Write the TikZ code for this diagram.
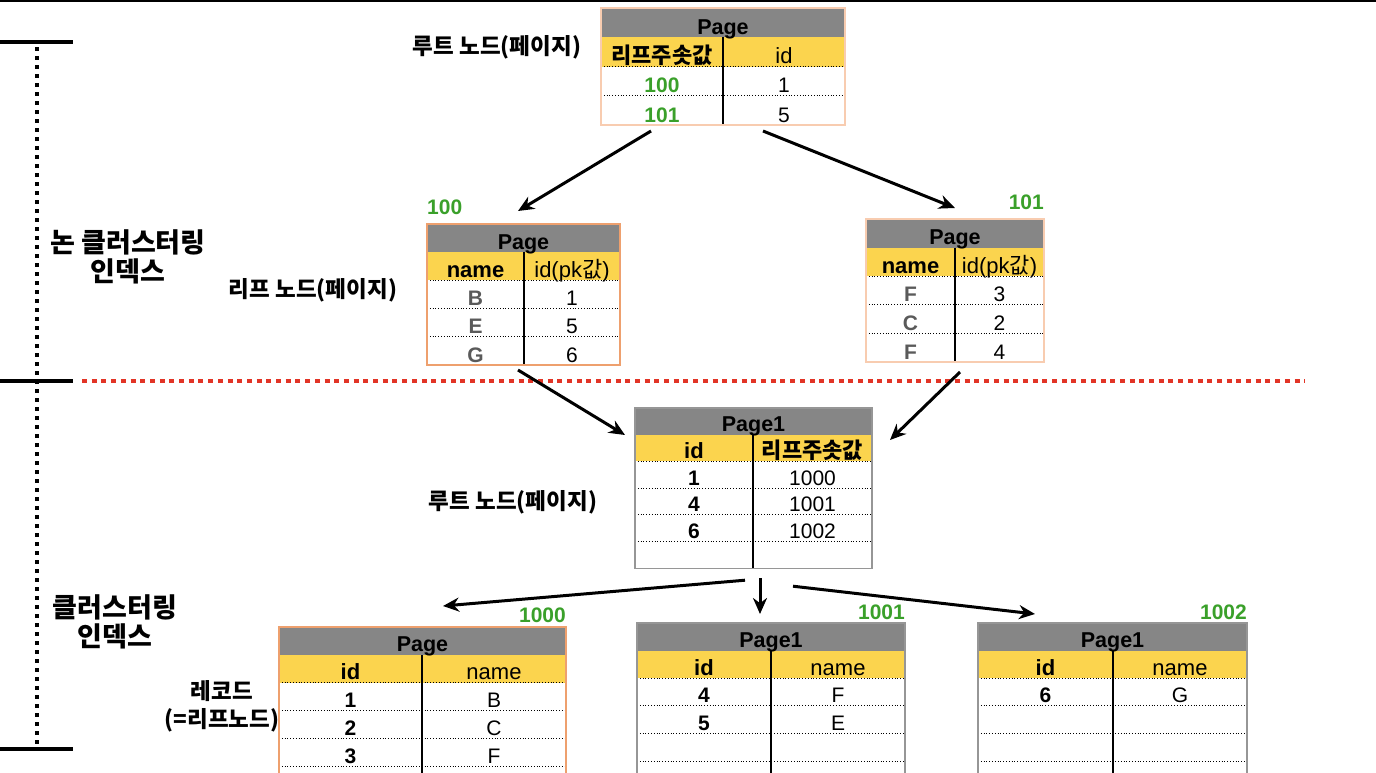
\documentclass[tikz,border=0pt]{standalone}
\usepackage{fontspec}
\setmainfont{Liberation Sans}
\newfontfamily\kr{Noto Sans CJK KR}
\usetikzlibrary{arrows.meta,calc,positioning}

\definecolor{pggray}{RGB}{134,134,134}
\definecolor{pgyellow}{RGB}{251,212,78}
\definecolor{numgreen}{RGB}{58,160,42}
\definecolor{cellgray}{RGB}{90,90,90}
\definecolor{lineorange}{RGB}{238,160,110}
\definecolor{lightorange}{RGB}{248,204,176}
\definecolor{linegray}{RGB}{150,150,150}
\definecolor{dotred}{RGB}{226,52,38}

\tikzset{
  pgbox/.style={rectangle, inner sep=0pt, outer sep=0pt, anchor=north west, line width=1.2pt},
  pgtitle/.style={anchor=base, inner sep=0pt, font=\fontsize{21.5}{24}\selectfont\bfseries},
  pghead/.style={anchor=base, inner sep=0pt, font=\fontsize{22}{24}\selectfont},
  cell/.style={anchor=base, inner sep=0pt, font=\fontsize{21}{24}\selectfont},
  boldcell/.style={cell, font=\fontsize{21}{24}\selectfont\bfseries},
  greencell/.style={boldcell, text=numgreen},
  graycell/.style={boldcell, text=cellgray},
  numlbl/.style={inner sep=0pt, text=numgreen, font=\fontsize{21}{24}\selectfont\bfseries},
  krlabel/.style={align=center, inner sep=0pt, font=\fontsize{22.5}{28}\selectfont\kr\bfseries},
  biglabel/.style={krlabel, font=\fontsize{27}{29.5}\selectfont\kr\bfseries},
  rowline/.style={black, line width=0.8pt, dotted},
  arr/.style={-{Stealth[length=16pt,width=14pt]}, line width=3pt},
}

% page table: name, left, top, right, column x, row slots, row height, border, title
\newcommand{\pgframe}[9]{%
  \pgfmathsetmacro\pgtop{#3}%
  \pgfmathsetmacro\pgrh{#7}%
  \pgfmathsetmacro\pgLx{(#2+#5)/2}%
  \pgfmathsetmacro\pgRx{(#5+#4)/2}%
  \pgfmathsetmacro\pgMx{(#2+#4)/2}%
  \fill[pggray] (#2,#3) rectangle (#4,{#3+#7});
  \fill[pgyellow] (#2,{#3+#7}) rectangle (#4,{#3+2*#7});
  \foreach \k in {1,...,#6}
    \draw[rowline] (#2,{#3+(\k+1)*#7}) -- (#4,{#3+(\k+1)*#7});
  \draw[line width=1.3pt] (#5,{#3+#7}) -- (#5,{#3+(#6+2)*#7});
  \node[pgtitle] at (\pgMx,{#3+#7-3}) {#9};
  \node[pgbox, draw=#8, minimum width={(#4-#2)*1pt},
        minimum height={(#6+2)*#7*1pt}] (#1) at (#2,#3) {};
}
\newcommand{\pghead}[2]{%
  \node[pghead] at (\pgLx,{\pgtop+2*\pgrh-3}) {#1};
  \node[pghead] at (\pgRx,{\pgtop+2*\pgrh-3}) {#2};
}
\newcommand{\pgcells}[2]{%
  \foreach \a/\b [count=\k] in {#2} {
    \node[#1] at (\pgLx,{\pgtop+(\k+2)*\pgrh-3}) {\a};
    \node[cell] at (\pgRx,{\pgtop+(\k+2)*\pgrh-3}) {\b};
  }
}

\begin{document}
\begin{tikzpicture}[x=1pt, y=-1pt]
  \useasboundingbox (0,0) rectangle (1376,772);
  \clip (0,0) rectangle (1376,772);
  \draw[line width=2pt] (0,1) -- (1376,1);

  % Bracket and divider
  \draw[line width=4pt] (0,42) -- (73,42);
  \draw[line width=4pt] (0,381) -- (73,381);
  \draw[line width=4pt] (0,749) -- (73,749);
  \draw[line width=4pt, dash pattern=on 3.5pt off 5.5pt] (37,47) -- (37,745);
  \draw[dotred, line width=3.5pt, dash pattern=on 5pt off 4.7pt] (82,381) -- (1305,381);

  % Non-clustered index
  \pgframe{root}{601}{8}{845}{723}{2}{29.25}{lightorange}{Page}
  \pghead{\kr\bfseries 리프주솟값}{id}
  \pgcells{greencell}{100/1, 101/5}

  \pgframe{leafA}{427}{224}{620}{524}{3}{28.2}{lineorange}{Page}
  \pghead{\bfseries name}{id(pk{\kr 값})}
  \pgcells{graycell}{B/1, E/5, G/6}

  \pgframe{leafB}{866}{219}{1044}{955}{3}{28.6}{lightorange}{Page}
  \pghead{\bfseries name}{id(pk{\kr 값})}
  \pgcells{graycell}{F/3, C/2, F/4}

  % Clustered index
  \pgframe{croot}{635}{408}{872}{753}{4}{26.7}{linegray}{Page1}
  \pghead{\bfseries id}{\kr\bfseries 리프주솟값}
  \pgcells{boldcell}{1/1000, 4/1001, 6/1002}

  \pgframe{recA}{279}{627}{566}{422}{4}{27.8}{lineorange}{Page}
  \pghead{\bfseries id}{name}
  \pgcells{boldcell}{1/B, 2/C, 3/F}

  \pgframe{recB}{637}{623}{905}{771}{4}{27.6}{linegray}{Page1}
  \pghead{\bfseries id}{name}
  \pgcells{boldcell}{4/F, 5/E}

  \pgframe{recC}{978}{623}{1247}{1113}{4}{27.6}{linegray}{Page1}
  \pghead{\bfseries id}{name}
  \pgcells{boldcell}{6/G}

  % Page numbers
  \node[numlbl, anchor=south west, yshift=9pt] at (leafA.north west) {100};
  \node[numlbl, anchor=south east, yshift=9pt] at (leafB.north east) {101};
  \node[numlbl, anchor=south east, yshift=4pt] at (recA.north east) {1000};
  \node[numlbl, anchor=south east, yshift=3pt] at (recB.north east) {1001};
  \node[numlbl, anchor=south east, yshift=3pt] at (recC.north east) {1002};

  % Labels
  \node[krlabel] (rootlbl) at (497,47) {루트 노드(페이지)};
  \node[krlabel] (leaflbl) at (313,290) {리프 노드(페이지)};
  \node[krlabel] (crootlbl) at (513,502) {루트 노드(페이지)};
  \node[biglabel] (ncilbl) at (128,257) {논 클러스터링\\인덱스};
  \node[biglabel] (cilbl) at (115,622) {클러스터링\\인덱스};
  \node[krlabel] (reclbl) at (222,706) {레코드\\(=리프노드)};

  % Arrows
  \draw[arr] ($(root.south west)+(50,6)$) -- ($(leafA.north west)+(91,-13)$);
  \draw[arr] ($(root.south west)+(162,6)$) -- ($(leafB.north west)+(89,-11)$);
  \draw[arr] ($(leafA.south west)+(91,5)$) -- ($(croot.north west)+(-10,27)$);
  \draw[arr] ($(leafB.south west)+(94,10)$) -- ($(croot.north east)+(18,32)$);
  \draw[arr] ($(croot.south west)+(110,12)$) -- ($(recA.north west)+(164,-21)$);
  \draw[arr] ($(croot.south west)+(125,10)$) -- ($(recB.north west)+(123,-9)$);
  \draw[arr] ($(croot.south west)+(158,18)$) -- ($(recC.north west)+(57,-9)$);
\end{tikzpicture}
\end{document}
